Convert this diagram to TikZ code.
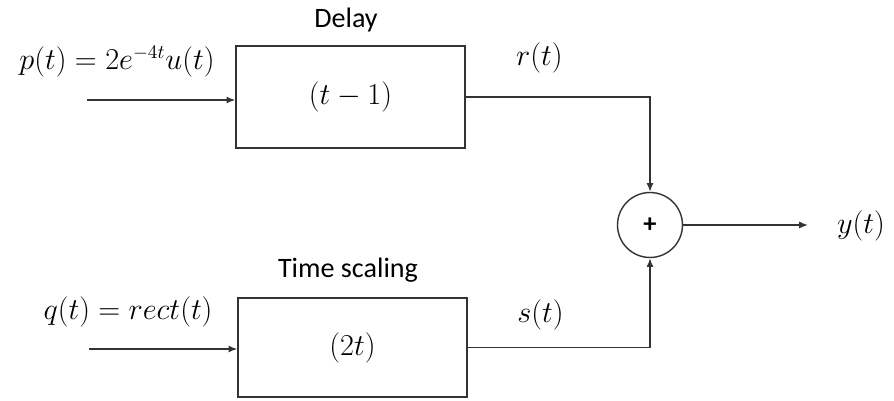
\documentclass[tikz,border=0pt]{standalone}
\usepackage{fontspec}
\setmainfont{Carlito}
\usetikzlibrary{arrows.meta}
\begin{document}
\begin{tikzpicture}[x=0.02cm, y=-0.02cm,
        every node/.style={font=\fontsize{16}{19}\selectfont},
        block/.style={draw=black!80, line width=0.8pt, inner sep=0pt},
        sum/.style={circle, draw=black!80, line width=0.8pt, minimum size=1.3cm,
            inner sep=0pt, font=\fontsize{15}{17}\selectfont\bfseries},
        sig/.style={draw=black!80, line width=0.8pt,
            -{Latex[length=5pt,width=4pt]}}]
\useasboundingbox (0,0) rectangle (894,401);

% blocks
\node[block, minimum width=4.58cm, minimum height=2.04cm] (delay) at (350.5,97) {$(t-1)$};
\node[block, minimum width=4.58cm, minimum height=1.98cm] (scale) at (352.5,347.5) {$(2t)$};
\node[sum] (add) at (650,225) {+};

\node (delaylab) at (346,20) {Delay};
\node (scalelab) at (348,270) {Time scaling};

% inputs
\coordinate (pin) at (87,100);
\coordinate (qin) at (89,349);
\node (plab) at (117,62) {$p(t) = 2e^{-4t}u(t)$};
\node (qlab) at (128,312) {$q(t) = rect(t)$};
\draw[sig] (pin) -- (pin -| delay.west);
\draw[sig] (qin) -- (qin -| scale.west);

% to the adder
\draw[sig] (delay.east) -| (add.north) node[pos=0.2, above=10pt] (rlab) {$r(t)$};
\draw[sig] (scale.east) -| (add.south) node[pos=0.2, above=6pt] (slab) {$s(t)$};

% output
\coordinate (yout) at (808,225);
\draw[sig] (add.east) -- (yout);
\node (ylab) at (861,226) {$y(t)$};

\end{tikzpicture}
\end{document}
